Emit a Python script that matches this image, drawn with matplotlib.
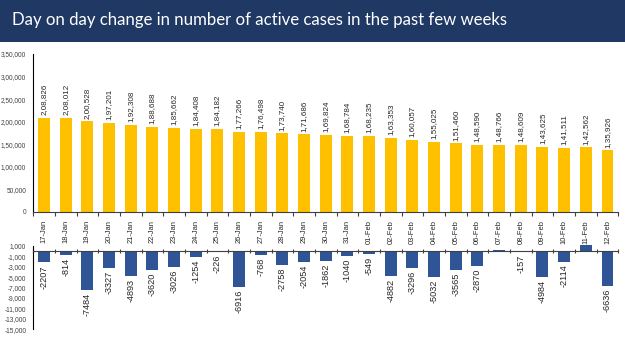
import matplotlib.pyplot as plt
import numpy as np

dates = ["17-Jan", "18-Jan", "19-Jan", "20-Jan", "21-Jan", "22-Jan", "23-Jan",
         "24-Jan", "25-Jan", "26-Jan", "27-Jan", "28-Jan", "29-Jan", "30-Jan",
         "31-Jan", "01-Feb", "02-Feb", "03-Feb", "04-Feb", "05-Feb", "06-Feb",
         "07-Feb", "08-Feb", "09-Feb", "10-Feb", "11-Feb", "12-Feb"]

active = [208826, 208012, 200528, 197201, 192308, 188688, 185662, 184408,
          184182, 177266, 176498, 173740, 171686, 169824, 168784, 168235,
          163353, 160057, 155025, 151460, 148590, 148766, 148609, 143625,
          141511, 142562, 135926]

change = [-2207, -814, -7484, -3327, -4893, -3620, -3026, -1254, -226, -6916,
          -768, -2758, -2054, -1862, -1040, -549, -4882, -3296, -5032, -3565,
          -2870, 176, -157, -4984, -2114, 1051, -6636]

top_ticks = list(range(0, 350001, 50000))
bottom_ticks = list(range(1000, -15001, -2000))


def formato_indio(n):
    """agrupa los miles al estilo indio: 3,50,000"""
    signo = "-" if n < 0 else ""
    s = str(abs(int(n)))
    if len(s) <= 3:
        return signo + s
    cola = s[-3:]
    resto = s[:-3]
    grupos = []
    while len(resto) > 2:
        grupos.insert(0, resto[-2:])
        resto = resto[:-2]
    if resto:
        grupos.insert(0, resto)
    return signo + ",".join(grupos) + "," + cola


plt.rcParams["font.family"] = ["Liberation Sans", "DejaVu Sans"]

W, H = 625, 351
fig = plt.figure(figsize=(W / 100, H / 100), dpi=100)
fig.patch.set_facecolor("white")

# banda del titulo
banda = fig.add_axes([0, 1 - 42 / H, 1, 42 / H])
banda.set_facecolor("#1f3864")
banda.set_xticks([])
banda.set_yticks([])
for s in banda.spines.values():
    s.set_visible(False)
fig.text(12 / W, 1 - 20 / H, "Day on day change in number of active cases in the past few weeks",
         color="white", fontsize=12.1, family="Lato", va="center", ha="left")

x = np.arange(len(dates))
left = 33.2 / W
width = (618.3 - 33.2) / W

# panel superior
ax1 = fig.add_axes([left, 1 - 211.7 / H, width, (211.7 - 54) / H])
ax1.bar(x, active, width=0.55, color="#ffc000")
ax1.set_xlim(-0.5, len(dates) - 0.5)
ax1.set_ylim(0, 350000)
ax1.set_yticks(top_ticks)
ax1.set_yticklabels([formato_indio(v) for v in top_ticks], fontsize=4.7, color="#404040")
ax1.tick_params(axis="y", length=0, pad=5)
ax1.set_xticks(x)
ax1.set_xticklabels(dates, rotation=90, fontsize=5.4, color="#262626")
ax1.tick_params(axis="x", length=0, pad=6)
ax1.set_xticks(np.arange(-0.5, len(dates), 1), minor=True)
ax1.tick_params(axis="x", which="minor", length=3, width=0.8, direction="out", color="#404040")
ax1.spines["top"].set_visible(False)
ax1.spines["right"].set_visible(False)
ax1.spines["left"].set_color("black")
ax1.spines["bottom"].set_color("#404040")
ax1.plot(-0.5, 1, marker="^", markersize=3, color="black",
         transform=ax1.get_yaxis_transform(), clip_on=False)
for xi, v in zip(x, active):
    ax1.text(xi, v + 6000, formato_indio(v), rotation=90, ha="center", va="bottom",
             fontsize=5.8, color="#262626")

# panel inferior
ax2 = fig.add_axes([left, 1 - 329.3 / H, width, (329.3 - 245.7) / H])
ax2.bar(x, change, width=0.55, color="#2f5597", clip_on=False)
ax2.set_xlim(-0.5, len(dates) - 0.5)
ax2.set_ylim(-15000, 1000)
ax2.set_yticks(bottom_ticks)
ax2.set_yticklabels([formato_indio(v) for v in bottom_ticks], fontsize=4.7, color="#404040")
ax2.tick_params(axis="y", length=0, pad=5)
ax2.set_xticks([])
ax2.set_xticks(np.arange(-0.5, len(dates), 1), minor=True)
ax2.tick_params(axis="x", which="minor", length=3, width=0.8, direction="inout",
                color="#404040", labelbottom=False)
for s in ["top", "right"]:
    ax2.spines[s].set_visible(False)
ax2.spines["left"].set_color("black")
ax2.spines["bottom"].set_position(("data", 0))
ax2.spines["bottom"].set_color("#404040")
ax2.plot(-0.5, 0, marker="v", markersize=3, color="black",
         transform=ax2.get_yaxis_transform(), clip_on=False)
for xi, v in zip(x, change):
    if v < 0:
        ax2.text(xi, v - 500, str(v), rotation=90, ha="center", va="top",
                 fontsize=6.6, color="#262626")

fig.savefig("out.png", dpi=100)
